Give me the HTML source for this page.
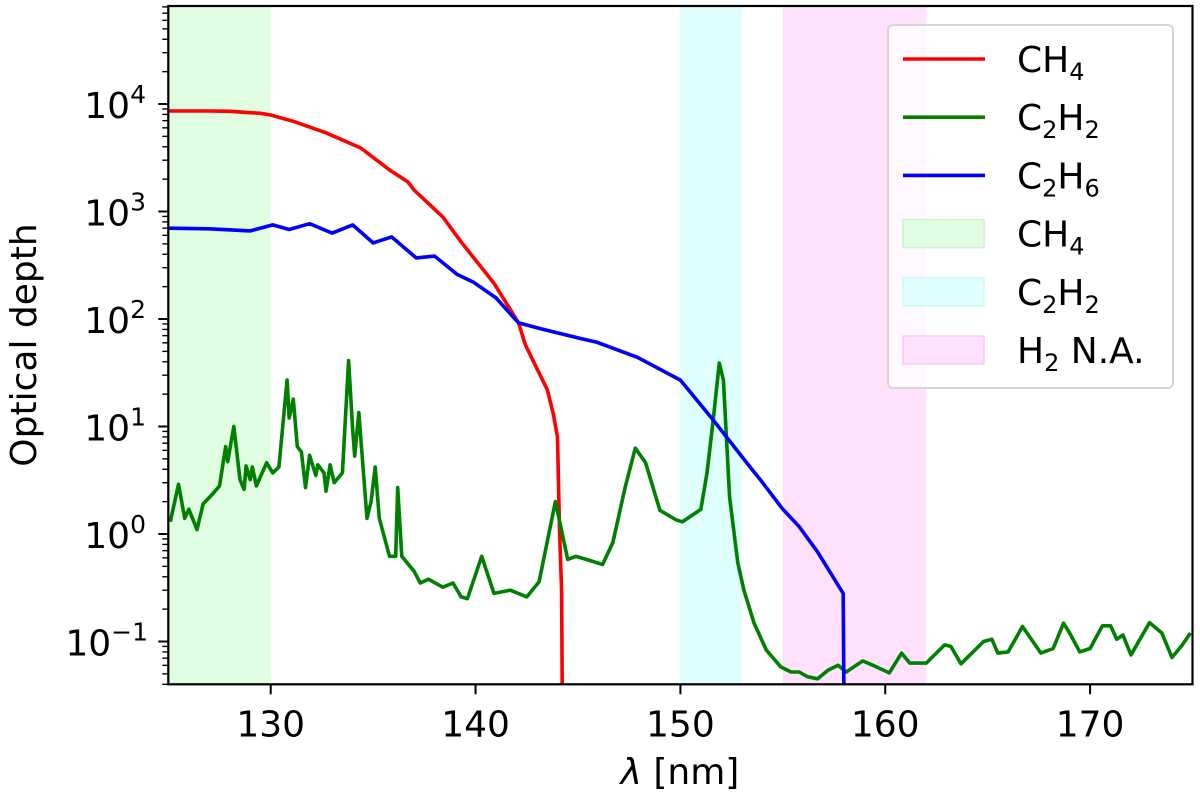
<!DOCTYPE html>
<html><head><meta charset="utf-8">
<style>
html,body{margin:0;padding:0;background:#fff;}
svg{display:block;font-family:"DejaVu Sans","Liberation Sans",sans-serif;}
</style></head>
<body>
<svg id="chart" width="1200" height="798" viewBox="0 0 1200 798"></svg>
<script>
const xTicks=[130,140,150,160,170];
const yTickExps=[-1,0,1,2,3,4];
const bandStarts=[125,150,155];
const bandEnds=[130,153,162];
const bandNames=['ch4-band','c2h2-band','h2-na-band'];
const ch4X=[125,126,127,128,129,129.5,130,131.1,132.7,134.4,135.8,136.7,137.0,138.4,139.3,140.9,142.1,142.4,142.5,143.5,143.8,144.0,144.1,144.2,144.25];
const ch4Y=[8600,8600,8600,8550,8300,8200,7900,6900,5400,3900,2440,1880,1580,890,520,215,92,60,54,22,13,8,1.1,0.3,0.01];
const c2h6X=[125,127,129,130.1,130.9,131.9,133.0,134.0,135.0,135.9,137.1,138.0,139.1,139.9,141.0,142.1,143.3,145.1,145.9,147.9,150.0,151.6,153.4,153.9,155.0,155.8,156.7,157.95,158.0];
const c2h6Y=[700,690,660,750,680,770,630,750,510,580,370,385,260,220,157,92,80,66,61,44,27,11.5,4.2,3.2,1.7,1.17,0.68,0.28,0.01];
const c2h2X=[125.1,125.5,125.8,126.0,126.4,126.7,127.2,127.5,127.8,127.9,128.2,128.5,128.7,128.8,129.0,129.1,129.3,129.8,130.1,130.4,130.8,130.9,131.1,131.3,131.5,131.7,131.9,132.2,132.3,132.6,132.7,132.9,133.1,133.5,133.8,134.0,134.1,134.3,134.7,134.9,135.1,135.3,135.8,136.1,136.2,136.4,137.0,137.3,137.7,138.4,138.9,139.3,139.6,140.3,140.9,141.7,142.5,143.1,143.9,144.5,144.9,145.4,146.2,146.7,147.3,147.8,148.3,149.0,149.8,150.1,150.8,151.0,151.3,151.6,151.9,152.1,152.4,152.8,153.1,153.6,154.2,154.9,155.4,155.8,156.2,156.7,157.2,157.7,158.1,158.9,159.4,160.2,160.8,161.2,162.0,162.9,163.2,163.7,164.8,165.2,165.5,166.0,166.7,167.6,168.2,168.7,169.0,169.5,170.0,170.6,171.0,171.3,171.6,172.0,172.9,173.5,174.0,174.5,174.9];
const c2h2Y=[1.3,2.9,1.4,1.7,1.1,1.9,2.4,2.8,6.5,4.7,10,3.2,2.6,4.3,3.2,4.2,2.8,4.6,3.7,4.2,27,12,18,6.5,5.8,2.7,5.4,3.5,4.4,3.7,2.5,4.4,3.0,3.7,41,9.3,5.3,13.5,1.4,2.0,4.2,1.4,0.62,0.62,2.7,0.62,0.45,0.35,0.38,0.32,0.35,0.26,0.25,0.62,0.28,0.30,0.26,0.36,2.0,0.58,0.62,0.58,0.52,0.83,2.7,6.3,4.6,1.66,1.35,1.3,1.6,1.7,3.7,11.5,39,27,2.2,0.54,0.30,0.148,0.083,0.058,0.052,0.052,0.047,0.045,0.054,0.060,0.052,0.066,0.06,0.051,0.078,0.063,0.063,0.093,0.09,0.062,0.10,0.105,0.078,0.08,0.138,0.078,0.086,0.148,0.12,0.08,0.086,0.14,0.14,0.105,0.115,0.075,0.15,0.12,0.071,0.093,0.12];

const L=168.3,R=1192.5,T=6,B=684.3;
const X0=125,X1=175;
const yOf4=104,dec=107.5;
function sx(v){return L+(v-X0)/(X1-X0)*(R-L);}
function sy(v){return yOf4-(Math.log10(Math.max(v,1e-6))-4)*dec;}
const NS='http://www.w3.org/2000/svg';
const svg=document.getElementById('chart');
function mk(tag,attrs,parent){const e=document.createElementNS(NS,tag);for(const k in attrs)e.setAttribute(k,attrs[k]);(parent||svg).appendChild(e);return e;}

const defs=mk('defs',{});
const cp=mk('clipPath',{id:'clip'},defs);
mk('rect',{x:L,y:T,width:R-L,height:B-T},cp);

const bandColors=['#e1fde1','#e0ffff','#ffe0fd'];
for(let i=0;i<bandStarts.length;i++){
  const r=mk('rect',{x:sx(bandStarts[i]),y:T,width:sx(bandEnds[i])-sx(bandStarts[i]),height:B-T,fill:bandColors[i]});
  
  
}
function line(xs,ys,color,name){
  let d='';
  for(let i=0;i<xs.length;i++){d+=(i?'L':'M')+sx(xs[i]).toFixed(1)+','+sy(ys[i]).toFixed(1);}
  const p=mk('path',{d:d,fill:'none',stroke:color,'stroke-width':3.6,'stroke-linejoin':'round','clip-path':'url(#clip)'});
  
  
}
line(ch4X,ch4Y,'#ff0000','ch4-line');
line(c2h2X,c2h2Y,'#008000','c2h2-line');
line(c2h6X,c2h6Y,'#0000ff','c2h6-line');

const fr=mk('rect',{x:L,y:T,width:R-L,height:B-T,fill:'none',stroke:'#000','stroke-width':2.2});



for(const t of xTicks){
  mk('line',{x1:sx(t),x2:sx(t),y1:B,y2:B+10,stroke:'#000','stroke-width':2});
  const tx=mk('text',{x:sx(t),y:B+52,'font-size':36,'text-anchor':'middle',fill:'#000'});
  tx.textContent=t;
  
  
}
for(const e of yTickExps){
  const y=sy(Math.pow(10,e));
  mk('line',{x1:L-10,x2:L,y1:y,y2:y,stroke:'#000','stroke-width':2});
  const tx=mk('text',{x:e<0?148:146,y:y+14,'font-size':36,'text-anchor':'end',fill:'#000'});
  tx.innerHTML='10<tspan dy="-15" font-size="25">'+(e<0?'\u2212'+(-e):e)+'</tspan>';
  
  
}
for(let e=-2;e<=4;e++){
  for(let m=2;m<=9;m++){
    const v=m*Math.pow(10,e);const y=sy(v);
    if(y<T||y>B)continue;
    mk('line',{x1:L-6,x2:L,y1:y,y2:y,stroke:'#000','stroke-width':1.4});
  }
}
const yl=mk('text',{x:0,y:0,'font-size':36,'text-anchor':'middle',fill:'#000',transform:'translate(36,345) rotate(-90)'});
yl.textContent='Optical depth';


const xl=mk('text',{x:680,y:784,'font-size':36,'text-anchor':'middle',fill:'#000'});
xl.innerHTML='<tspan font-style="italic">λ</tspan> [nm]';



const lg=mk('g',{});


mk('rect',{x:888,y:25,width:285,height:363,rx:5,fill:'rgba(255,255,255,0.8)',stroke:'#d6d6d6','stroke-width':2},lg);
const legLabels=['CH<tspan font-size="24" dy="8">4</tspan>','C<tspan font-size="24" dy="8">2</tspan><tspan dy="-8">H</tspan><tspan font-size="24" dy="8">2</tspan>','C<tspan font-size="24" dy="8">2</tspan><tspan dy="-8">H</tspan><tspan font-size="24" dy="8">6</tspan>','CH<tspan font-size="24" dy="8">4</tspan>','C<tspan font-size="24" dy="8">2</tspan><tspan dy="-8">H</tspan><tspan font-size="24" dy="8">2</tspan>','H<tspan font-size="24" dy="8">2</tspan><tspan dy="-8"> N.A.</tspan>'];
const legKinds=['#ff0000','#008000','#0000ff','b0','b1','b2'];
const bandEdge=['#c8f5c8','#c8fafa','#fbc8f8'];
for(let i=0;i<6;i++){
  const y=59+i*58.2;
  const g=mk('g',{},lg);
  
  
  if(i<3) mk('line',{x1:903,x2:985,y1:y,y2:y,stroke:legKinds[i],'stroke-width':3.6},g);
  else mk('rect',{x:903,y:y-14,width:81,height:28,fill:bandColors[i-3],stroke:bandEdge[i-3],'stroke-width':1.5},g);
  const t=mk('text',{x:1017,y:y+13,'font-size':36,fill:'#000'},g);
  t.innerHTML=legLabels[i];
}
</script>
</body></html>
